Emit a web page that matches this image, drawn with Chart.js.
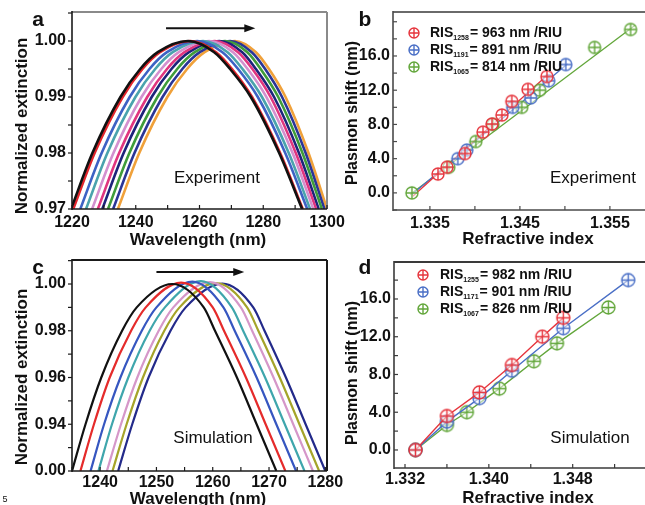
<!DOCTYPE html>
<html lang="en">
<head>
  <meta charset="UTF-8" />
  <title>Plasmon shift - experiment and simulation</title>
  <script src="https://cdn.jsdelivr.net/npm/chart.js"></script>
  <style>
    body { margin: 0; background: #ffffff; }
    .wrap { position: relative; width: 645px; height: 505px; overflow: hidden; }
    canvas { position: absolute; left: 0; top: 0; }
  </style>
</head>
<body>
  <div class="wrap">
    <canvas id="chartA" width="645" height="505"></canvas>
    <canvas id="chartB" width="645" height="505"></canvas>
    <canvas id="chartC" width="645" height="505"></canvas>
    <canvas id="chartD" width="645" height="505"></canvas>
  </div>

  <script>
    // ---- panel a: wavelength (nm) where each measured curve crosses these levels
    const levelsA = [0.97, 0.98, 0.99, 0.995, 0.998, 1.0, 0.998, 0.995, 0.99, 0.98, 0.97];
    const expBlack   = [1219.7, 1226.4, 1235.2, 1241.4, 1246.9, 1256.4, 1264.6, 1269.6, 1276.1, 1285.0, 1292.2];
    const expRed     = [1220.4, 1227.1, 1235.9, 1242.1, 1247.6, 1257.1, 1265.2, 1270.2, 1276.5, 1285.3, 1292.4];
    const expBlue    = [1222.6, 1229.3, 1238.1, 1244.3, 1249.8, 1259.3, 1267.2, 1272.1, 1278.3, 1286.9, 1293.8];
    const expTeal    = [1224.4, 1231.1, 1239.9, 1246.1, 1251.6, 1261.1, 1268.8, 1273.5, 1279.6, 1288.0, 1294.7];
    const expPink    = [1226.3, 1233.0, 1241.8, 1248.0, 1253.5, 1263.0, 1270.5, 1275.1, 1281.0, 1289.2, 1295.7];
    const expMagenta = [1228.1, 1234.8, 1243.6, 1249.8, 1255.3, 1264.8, 1272.1, 1276.6, 1282.3, 1290.2, 1296.6];
    const expNavy    = [1229.5, 1236.2, 1245.0, 1251.2, 1256.7, 1266.2, 1273.4, 1277.7, 1283.4, 1291.2, 1297.4];
    const expGreen   = [1231.3, 1238.0, 1246.8, 1253.0, 1258.5, 1268.0, 1275.0, 1279.2, 1284.7, 1292.3, 1298.4];
    const expIndigo  = [1232.9, 1239.6, 1248.4, 1254.6, 1260.1, 1269.6, 1276.4, 1280.6, 1285.9, 1293.3, 1299.2];
    const expOrange  = [1234.4, 1241.1, 1249.9, 1256.1, 1261.6, 1271.1, 1277.7, 1281.8, 1287.0, 1294.2, 1300.0];
    const aXTicks = [1220, 1240, 1260, 1280, 1300];
    const aYTicks = [0.97, 0.98, 0.99, 1.00];

    // ---- panel c: simulated curves (peak value in the middle column)
    const levelsC = [0.92, 0.94, 0.96, 0.98, 0.99, 1.0, 0.99, 0.98, 0.96, 0.94, 0.92];
    const simPeaks = [1.0, 1.0006, 1.001, 1.0012, 1.0008, 1.0004, 1.0002];
    const simBlack = [1235.0, 1237.4, 1240.2, 1243.9, 1246.5, 1252.8, 1258.4, 1260.4, 1264.3, 1267.8, 1271.3];
    const simRed   = [1236.5, 1238.9, 1241.7, 1245.5, 1248.1, 1254.4, 1260.0, 1262.0, 1265.9, 1269.4, 1272.9];
    const simBlue  = [1238.3, 1240.7, 1243.6, 1247.4, 1250.0, 1256.4, 1261.9, 1263.9, 1267.8, 1271.3, 1274.8];
    const simTeal  = [1239.7, 1242.1, 1245.0, 1248.8, 1251.5, 1257.9, 1263.4, 1265.4, 1269.3, 1272.8, 1276.3];
    const simPink  = [1241.2, 1243.7, 1246.6, 1250.4, 1253.0, 1259.5, 1265.0, 1267.0, 1270.8, 1274.3, 1277.8];
    const simOlive = [1242.2, 1244.7, 1247.6, 1251.4, 1254.1, 1260.6, 1266.1, 1268.1, 1271.9, 1275.4, 1278.9];
    const simNavy  = [1243.2, 1245.7, 1248.6, 1252.5, 1255.2, 1261.7, 1267.2, 1269.2, 1273.0, 1276.5, 1280.0];
    const cXTicks = [1240, 1250, 1260, 1270, 1280];
    const cYTicks = [0.92, 0.94, 0.96, 0.98, 1.00];
    const cYLabels = ['0.00', '0.94', '0.96', '0.98', '1.00'];

    // ---- panel b: measured plasmon shift vs refractive index
    const bRedX   = [1.3359, 1.3369, 1.3389, 1.3409, 1.3419, 1.3430, 1.3441, 1.3459, 1.3480];
    const bRedY   = [2.2, 3.0, 4.6, 7.1, 8.05, 9.1, 10.7, 12.1, 13.6];
    const bBlueX  = [1.3381, 1.3391, 1.3442, 1.3462, 1.3482, 1.3501];
    const bBlueY  = [4.0, 5.0, 10.0, 11.1, 13.1, 15.0];
    const bGreenX = [1.3330, 1.3371, 1.3401, 1.3420, 1.3452, 1.3472, 1.3533, 1.3573];
    const bGreenY = [0.0, 3.0, 6.0, 8.0, 10.0, 12.0, 17.0, 19.1];
    // linear fits (end points)
    const bRedFitX = [1.3331, 1.3481],   bRedFitY = [-0.4, 13.8];
    const bBlueFitX = [1.3330, 1.3503],  bBlueFitY = [-0.2, 15.1];
    const bGreenFitX = [1.3328, 1.3578], bGreenFitY = [-0.2, 19.6];
    const bXTicks = [1.335, 1.345, 1.355];
    const shiftTicks = [0, 4, 8, 12, 16];
    const bLegend = [['1258', '= 963 nm /RIU'], ['1191', '= 891 nm /RIU'], ['1065', '= 814 nm /RIU']];

    // ---- panel d: simulated plasmon shift
    const dRedX   = [1.3330, 1.3360, 1.3391, 1.3422, 1.3451, 1.3471];
    const dRedY   = [0, 3.6, 6.1, 9.0, 12.0, 14.0];
    const dBlueX  = [1.3330, 1.3360, 1.3391, 1.3422, 1.3471, 1.3533];
    const dBlueY  = [0, 3.0, 5.5, 8.4, 12.9, 18.0];
    const dGreenX = [1.3330, 1.3360, 1.3379, 1.3410, 1.3443, 1.3465, 1.3514];
    const dGreenY = [0, 2.65, 4.0, 6.5, 9.4, 11.3, 15.1];
    const dXTicks = [1.332, 1.340, 1.348];
    const dLegend = [['1255', '= 982 nm /RIU'], ['1171', '= 901 nm /RIU'], ['1067', '= 826 nm /RIU']];

    const FONT = "'Liberation Sans', Arial, Helvetica, sans-serif";
    const RED = '#e6353d', BLUE = '#4a6fc6', GREEN = '#62a63a';

    const pts = (xs, ys) => xs.map((x, i) => ({ x: x, y: ys[i] }));
    const curve = (xs, levels, peak) => xs.map((x, i) => ({ x: x, y: (i === 5 && peak) ? peak : levels[i] }));

    function marker(color, r) {
      const c = document.createElement('canvas');
      const s = 2 * r + 4;
      c.width = s; c.height = s;
      const g = c.getContext('2d');
      g.strokeStyle = color;
      g.lineWidth = 1.4;
      g.fillStyle = 'rgba(255,255,255,0.55)';
      g.beginPath(); g.arc(s / 2, s / 2, r, 0, Math.PI * 2); g.fill(); g.stroke();
      g.beginPath();
      g.moveTo(s / 2 - r, s / 2); g.lineTo(s / 2 + r, s / 2);
      g.moveTo(s / 2, s / 2 - r); g.lineTo(s / 2, s / 2 + r);
      g.stroke();
      return c;
    }

    function axis(min, max, ticks, labels, pad, size, horizontal) {
      return {
        type: 'linear', min: min, max: max,
        grid: { display: false, drawTicks: false },
        border: { display: false },
        ticks: {
          autoSkip: false, maxRotation: 0, minRotation: 0, padding: pad, color: '#111',
          font: { family: FONT, size: 16, weight: 'bold' },
          callback: (v, i) => labels[i]
        },
        afterBuildTicks: s => { s.ticks = ticks.map(v => ({ value: v })); },
        afterFit: s => {
          if (horizontal) s.height = size; else s.width = size;
          s.paddingLeft = 0; s.paddingRight = 0; s.paddingTop = 0; s.paddingBottom = 0;
        }
      };
    }

    // frame, minor ticks, arrow, legend and text labels
    function deco(cfg) {
      return {
        id: 'deco',
        afterDraw(chart) {
          const ctx = chart.ctx, a = chart.chartArea, sx = chart.scales.x, sy = chart.scales.y;
          const line = (x1, y1, x2, y2, color, w) => {
            ctx.strokeStyle = color; ctx.lineWidth = w;
            ctx.beginPath(); ctx.moveTo(x1, y1); ctx.lineTo(x2, y2); ctx.stroke();
          };
          ctx.save();
          line(a.left, a.top, a.right, a.top, cfg.frameTop, 2);
          if (cfg.rightFrame) line(a.right, a.top, a.right, a.bottom, cfg.frameTop, 2);
          line(a.left, a.top - 1, a.left, a.bottom + 1, cfg.frameAxis, 1.6);
          line(a.left, a.bottom, a.right, a.bottom, cfg.frameAxis, 1.6);

          for (let k = Math.ceil(sx.min / cfg.xStep - 1e-6); k * cfg.xStep <= sx.max + 1e-9; k++) {
            const px = sx.getPixelForValue(k * cfg.xStep);
            line(px, a.bottom, px, a.bottom - 4, cfg.frameAxis, 1.2);
          }
          const dir = cfg.yTicksOut ? -1 : 1;
          for (let k = Math.ceil(sy.min / cfg.yStep - 1e-6); k * cfg.yStep <= sy.max + 1e-9; k++) {
            const py = sy.getPixelForValue(k * cfg.yStep);
            line(a.left, py, a.left + dir * 4, py, cfg.frameAxis, 1.2);
          }

          if (cfg.arrow) {
            const x1 = sx.getPixelForValue(cfg.arrow.from), x2 = sx.getPixelForValue(cfg.arrow.to);
            const y = sy.getPixelForValue(cfg.arrow.at);
            line(x1, y, x2 - 6, y, '#111', 2);
            ctx.fillStyle = '#111';
            ctx.beginPath(); ctx.moveTo(x2, y); ctx.lineTo(x2 - 11, y - 4); ctx.lineTo(x2 - 11, y + 4); ctx.closePath(); ctx.fill();
          }

          if (cfg.legend) {
            const L = cfg.legend;
            L.items.forEach((it, i) => {
              const y = L.y + i * L.dy;
              const m = marker(it.color, 5);
              ctx.drawImage(m, L.x - m.width / 2, y - m.height / 2);
              ctx.fillStyle = '#111';
              ctx.textBaseline = 'middle';
              ctx.textAlign = 'left';
              ctx.font = 'bold 14px ' + FONT;
              let tx = L.x + L.gap;
              ctx.fillText('RIS', tx, y);
              tx += ctx.measureText('RIS').width;
              ctx.font = 'bold 7px ' + FONT;
              ctx.fillText(it.sub, tx, y + 5);
              tx += ctx.measureText(it.sub).width + 1;
              ctx.font = 'bold 14px ' + FONT;
              ctx.fillText(it.text, tx, y);
            });
          }

          (cfg.texts || []).forEach(t => {
            ctx.save();
            ctx.fillStyle = '#111';
            ctx.textAlign = t.align || 'center';
            ctx.textBaseline = 'middle';
            ctx.font = (t.bold ? 'bold ' : '') + t.size + 'px ' + FONT;
            ctx.translate(t.x, t.y);
            if (t.rot) ctx.rotate(-Math.PI / 2);
            ctx.fillText(t.t, 0, 0);
            ctx.restore();
          });
          ctx.restore();
        }
      };
    }

    function makeChart(id, type, datasets, scales, pad, cfg) {
      return new Chart(document.getElementById(id), {
        type: type,
        data: { datasets: datasets },
        options: {
          responsive: false, animation: false, events: [], devicePixelRatio: 1,
          layout: { padding: pad, autoPadding: false },
          plugins: { legend: { display: false }, tooltip: { enabled: false } },
          scales: scales
        },
        plugins: [deco(cfg)]
      });
    }

    const lineSet = (data, color, w) => ({
      data: data, borderColor: color, borderWidth: w, pointRadius: 0, fill: false,
      cubicInterpolationMode: 'monotone', showLine: true
    });

    // ---- a
    const expSeries = [expBlack, expRed, expBlue, expTeal, expPink, expMagenta, expNavy, expGreen, expIndigo, expOrange];
    const expColors = ['#111111', '#e3262d', '#3d62c4', '#4aa3ad', '#d390cf', '#e0357f', '#1d237a', '#3f9c3a', '#2b3596', '#f0a13a'];
    makeChart('chartA', 'line',
      expSeries.map((s, i) => lineSet(curve(s, levelsA), expColors[i], 2.6)),
      { x: axis(1220, 1300, aXTicks, aXTicks.map(String), 4, 24, true),
        y: axis(0.97, 1.00518, aYTicks, aYTicks.map(v => v.toFixed(2)), 6, 60, false) },
      { left: 12, top: 12, right: 318, bottom: 272 },
      { frameTop: '#8a8a8a', frameAxis: '#1a1a1a', rightFrame: true, xStep: 10, yStep: 0.005, yTicksOut: true,
        arrow: { from: 1249.5, to: 1277.5, at: 1.0023 },
        texts: [
          { t: 'a', x: 38, y: 20, size: 21, bold: true },
          { t: 'Experiment', x: 217, y: 178, size: 17 },
          { t: 'Wavelength (nm)', x: 198, y: 240, size: 17, bold: true },
          { t: 'Normalized extinction', x: 22, y: 126, size: 17, bold: true, rot: true }
        ] });

    // ---- c
    const simSeries = [simBlack, simRed, simBlue, simTeal, simPink, simOlive, simNavy];
    const simColors = ['#111111', '#e52b2b', '#3656c0', '#3fa6ac', '#d597c9', '#a5a42a', '#232a8a'];
    makeChart('chartC', 'line',
      simSeries.map((s, i) => lineSet(curve(s, levelsC, simPeaks[i]), simColors[i], 2.2)),
      { x: axis(1235, 1280.3, cXTicks, cXTicks.map(String), 2, 24, true),
        y: axis(0.92, 1.01027, cYTicks, cYLabels, 6, 60, false) },
      { left: 12, top: 260, right: 318, bottom: 10 },
      { frameTop: '#1a1a1a', frameAxis: '#1a1a1a', rightFrame: true, xStep: 5, yStep: 0.01, yTicksOut: true,
        arrow: { from: 1250, to: 1265.6, at: 1.0051 },
        texts: [
          { t: 'c', x: 38, y: 268, size: 21, bold: true },
          { t: 'Simulation', x: 213, y: 438, size: 17 },
          { t: 'Wavelength (nm)', x: 198, y: 499, size: 17, bold: true },
          { t: 'Normalized extinction', x: 22, y: 377, size: 17, bold: true, rot: true },
          { t: '5', x: 5, y: 500, size: 9 }
        ] });

    // ---- b
    const fitSet = (data, color) => ({ data: data, borderColor: color, borderWidth: 1.3, pointRadius: 0, showLine: true, fill: false });
    const dotSet = (data, color) => ({ data: data, pointStyle: marker(color, 6), pointRadius: 6, showLine: false });
    makeChart('chartB', 'scatter', [
        dotSet(pts(bRedX, bRedY), RED),
        dotSet(pts(bBlueX, bBlueY), BLUE),
        dotSet(pts(bGreenX, bGreenY), GREEN),
        fitSet(pts(bRedFitX, bRedFitY), RED),
        fitSet(pts(bBlueFitX, bBlueFitY), BLUE),
        fitSet(pts(bGreenFitX, bGreenFitY), GREEN)
      ],
      { x: axis(1.3309, 1.3589, bXTicks, bXTicks.map(v => v.toFixed(3)), 4, 24, true),
        y: axis(-2.0, 21.14, shiftTicks, shiftTicks.map(v => v.toFixed(1)), 3, 60, false) },
      { left: 333, top: 12, right: 0, bottom: 271 },
      { frameTop: '#6a6a6a', frameAxis: '#4a4a4a', rightFrame: false, xStep: 0.005, yStep: 2, yTicksOut: false,
        legend: { x: 414, y: 33, dy: 17, gap: 16, items: bLegend.map((l, i) => ({ color: [RED, BLUE, GREEN][i], sub: l[0], text: l[1] })) },
        texts: [
          { t: 'b', x: 365, y: 20, size: 21, bold: true },
          { t: 'Experiment', x: 593, y: 178, size: 17 },
          { t: 'Refractive index', x: 528, y: 239, size: 17, bold: true },
          { t: 'Plasmon shift (nm)', x: 353, y: 113, size: 16, bold: true, rot: true }
        ] });

    // ---- d
    const polySet = (data, color) => ({ data: data, borderColor: color, borderWidth: 1.4, pointStyle: marker(color, 6.5), pointRadius: 6, showLine: true, fill: false });
    makeChart('chartD', 'scatter', [
        polySet(pts(dRedX, dRedY), RED),
        polySet(pts(dBlueX, dBlueY), BLUE),
        polySet(pts(dGreenX, dGreenY), GREEN)
      ],
      { x: axis(1.33095, 1.3549, dXTicks, dXTicks.map(v => v.toFixed(3)), 2, 24, true),
        y: axis(-1.91, 19.92, shiftTicks, shiftTicks.map(v => v.toFixed(1)), 3, 60, false) },
      { left: 334, top: 262, right: 0, bottom: 13 },
      { frameTop: '#3a3a3a', frameAxis: '#3a3a3a', rightFrame: false, xStep: 0.004, yStep: 2, yTicksOut: false,
        legend: { x: 423, y: 275, dy: 17, gap: 17, items: dLegend.map((l, i) => ({ color: [RED, BLUE, GREEN][i], sub: l[0], text: l[1] })) },
        texts: [
          { t: 'd', x: 365, y: 268, size: 21, bold: true },
          { t: 'Simulation', x: 590, y: 438, size: 17 },
          { t: 'Refractive index', x: 528, y: 498, size: 17, bold: true },
          { t: 'Plasmon shift (nm)', x: 353, y: 373, size: 16, bold: true, rot: true }
        ] });
  </script>
</body>
</html>
